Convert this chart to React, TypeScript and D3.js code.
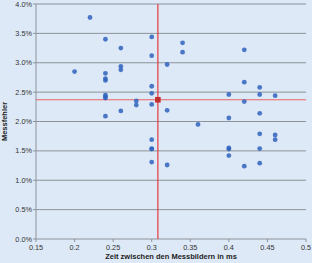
import * as d3 from "d3";

const W = 312;
const H = 263;
const M = { top: 4, right: 6, bottom: 24, left: 36 };

// Zeit zwischen den Messbildern (ms)
const xs = [
  0.2, 0.22, 0.24, 0.24, 0.24, 0.24, 0.24, 0.24, 0.24, 0.24,
  0.26, 0.26, 0.26, 0.26, 0.28, 0.28,
  0.3, 0.3, 0.3, 0.3, 0.3, 0.3, 0.3, 0.3, 0.3,
  0.32, 0.32, 0.32, 0.34, 0.34, 0.36,
  0.4, 0.4, 0.4, 0.4, 0.4,
  0.42, 0.42, 0.42, 0.42,
  0.44, 0.44, 0.44, 0.44, 0.44, 0.44,
  0.46, 0.46, 0.46,
];
// Messfehler (%)
const ys = [
  2.85, 3.77, 3.4, 2.82, 2.73, 2.7, 2.45, 2.42, 2.4, 2.09,
  3.25, 2.94, 2.88, 2.18, 2.35, 2.28,
  3.44, 3.12, 2.6, 2.48, 2.29, 1.69, 1.54, 1.53, 1.31,
  2.97, 2.19, 1.26, 3.34, 3.18, 1.95,
  2.46, 2.06, 1.55, 1.53, 1.42,
  3.22, 2.67, 2.34, 1.24,
  2.58, 2.46, 2.14, 1.79, 1.54, 1.29,
  2.44, 1.77, 1.69,
];
const meanX = 0.308;
const meanY = 2.37;

const xTicks = [0.15, 0.2, 0.25, 0.3, 0.35, 0.4, 0.45, 0.5];
const yTicks = [0, 0.5, 1, 1.5, 2, 2.5, 3, 3.5, 4];

export default function App() {
  const x = d3.scaleLinear().domain([0.15, 0.5]).range([M.left, W - M.right]);
  const y = d3.scaleLinear().domain([0, 4]).range([H - M.bottom, M.top]);
  const font = "Liberation Sans, Arial, sans-serif";

  return (
    <svg
      width={W}
      height={H}
      style={{ position: "absolute", left: 0, top: 0, display: "block" }}
      fontFamily={font}
    >
      <rect width={W} height={H} fill="#dde9f7" />

      {yTicks.map((t) => (
        <g key={`y${t}`}>
          {t > 0 && (
            <line x1={M.left} x2={W - M.right} y1={y(t)} y2={y(t)} stroke="#8d9399" strokeWidth={1} />
          )}
          <line x1={M.left - 3} x2={M.left} y1={y(t)} y2={y(t)} stroke="#8d9399" />
          <text x={M.left - 4} y={y(t) + 2.6} textAnchor="end" fontSize={7.3} fill="#333">
            {t.toFixed(1)}%
          </text>
        </g>
      ))}

      <line x1={M.left} x2={M.left} y1={M.top} y2={H - M.bottom} stroke="#8d9399" />
      <line x1={M.left} x2={W - M.right} y1={H - M.bottom} y2={H - M.bottom} stroke="#8d9399" />

      {xTicks.map((t) => (
        <g key={`x${t}`}>
          <line x1={x(t)} x2={x(t)} y1={H - M.bottom} y2={H - M.bottom + 3} stroke="#8d9399" />
          <text x={x(t)} y={H - M.bottom + 11} textAnchor="middle" fontSize={7.3} fill="#333">
            {t}
          </text>
        </g>
      ))}

      <line x1={x(meanX)} x2={x(meanX)} y1={M.top} y2={H - M.bottom} stroke="#e8383a" strokeWidth={1.2} />
      <line x1={M.left} x2={W - M.right} y1={y(meanY)} y2={y(meanY)} stroke="#ea6466" strokeWidth={1.2} />

      {xs.map((v, i) => (
        <circle key={i} cx={x(v)} cy={y(ys[i])} r={2.4} fill="#2f63bd" fillOpacity={0.85} />
      ))}

      <rect x={x(meanX) - 2.8} y={y(meanY) - 2.8} width={5.6} height={5.6} fill="#c0302f" />

      <text
        transform={`translate(7 ${(M.top + H - M.bottom) / 2}) rotate(-90)`}
        textAnchor="middle"
        fontSize={7.5}
        fontWeight="bold"
        fill="#222"
      >
        Messfehler
      </text>
      <text x={(M.left + W - M.right) / 2} y={H - 4.5} textAnchor="middle" fontSize={7.5} fontWeight="bold" fill="#222">
        Zeit zwischen den Messbildern in ms
      </text>
    </svg>
  );
}
